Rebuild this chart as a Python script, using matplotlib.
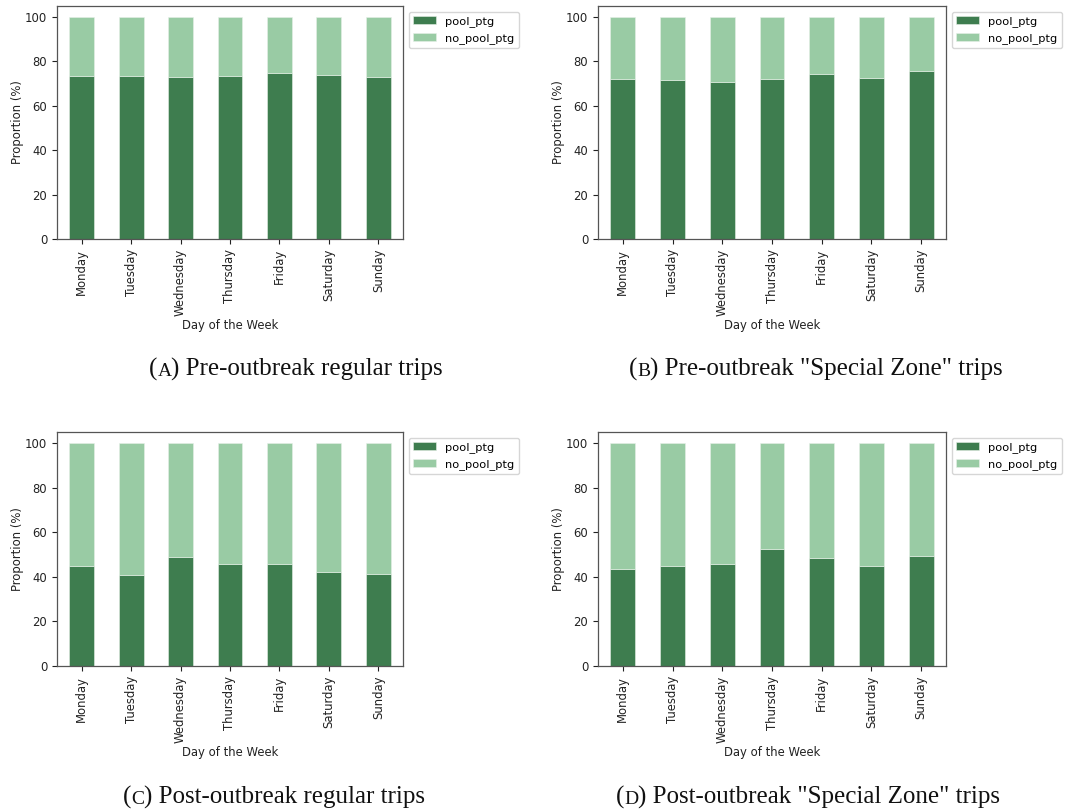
import matplotlib.pyplot as plt
import numpy as np

days = ['Monday', 'Tuesday', 'Wednesday', 'Thursday', 'Friday', 'Saturday', 'Sunday']

# share of pooled trips (%) per weekday
pre_regular = [73.5, 73.5, 73.0, 73.5, 75.0, 73.9, 73.0]
pre_special = [72.0, 71.5, 70.6, 72.0, 74.4, 72.4, 75.5]
post_regular = [44.7, 40.8, 49.0, 45.6, 45.6, 42.1, 41.2]
post_special = [43.6, 44.7, 45.6, 52.3, 48.4, 44.7, 49.5]

captions = ['Pre-outbreak regular trips', 'Pre-outbreak "Special Zone" trips',
            'Post-outbreak regular trips', 'Post-outbreak "Special Zone" trips']
letters = ['A', 'B', 'C', 'D']

dark = '#3e7d4f'
light = '#99cba4'

W, H = 1078, 809
fig = plt.figure(figsize=(W / 100, H / 100), dpi=100)
plt.rcParams['font.size'] = 8.4

# axes boxes in pixels: left, top, right, bottom
boxes = [(57, 6, 403, 239), (598, 6, 946, 239),
         (57, 432, 403, 666), (598, 432, 946, 666)]
cap_pos = [(296, 376), (816, 376), (274, 804), (808, 804)]

data = [pre_regular, pre_special, post_regular, post_special]
renderer = fig.canvas.get_renderer()
serif = 'Liberation Serif'


def caption(cx, cy, letter, body):
    # "(A) text" with the letter in small caps, centred on cx
    parts = [('(', 18), (letter, 14), (') ' + body, 18)]
    texts = [fig.text(0, 1 - cy / H, s, fontsize=fs, family=serif, color='#111111',
                      va='baseline') for s, fs in parts]
    widths = [t.get_window_extent(renderer).width for t in texts]
    x = cx - sum(widths) / 2
    for t, w in zip(texts, widths):
        t.set_x(x / W)
        x += w


for i in range(4):
    l, t, r, b = boxes[i]
    ax = fig.add_axes([l / W, 1 - b / H, (r - l) / W, (b - t) / H])
    pool = np.array(data[i])
    no_pool = 100 - pool
    x = np.arange(len(days))
    ax.bar(x, pool, width=0.5, color=dark, edgecolor='#e6f0e8', linewidth=0.4, label='pool_ptg')
    ax.bar(x, no_pool, width=0.5, bottom=pool, color=light, edgecolor='#e6f0e8', linewidth=0.4,
           label='no_pool_ptg')
    ax.set_xlim(-0.5, 6.5)
    ax.set_ylim(0, 105)
    ax.set_yticks([0, 20, 40, 60, 80, 100])
    ax.set_xticks(x)
    ax.set_xticklabels(days, rotation=90)
    ax.set_xlabel('Day of the Week', color='#222222', labelpad=2)
    ax.set_ylabel('Proportion (%)', color='#222222', labelpad=1)
    ax.tick_params(colors='#222222', length=3.5, width=0.8)
    for s in ax.spines.values():
        s.set_color('#555555')
        s.set_linewidth(0.9)
    ax.legend(loc='upper left', bbox_to_anchor=(1, 1), fontsize=8.2)

    cx, cy = cap_pos[i]
    caption(cx, cy, letters[i], captions[i])

fig.savefig('out.png', dpi=100)
